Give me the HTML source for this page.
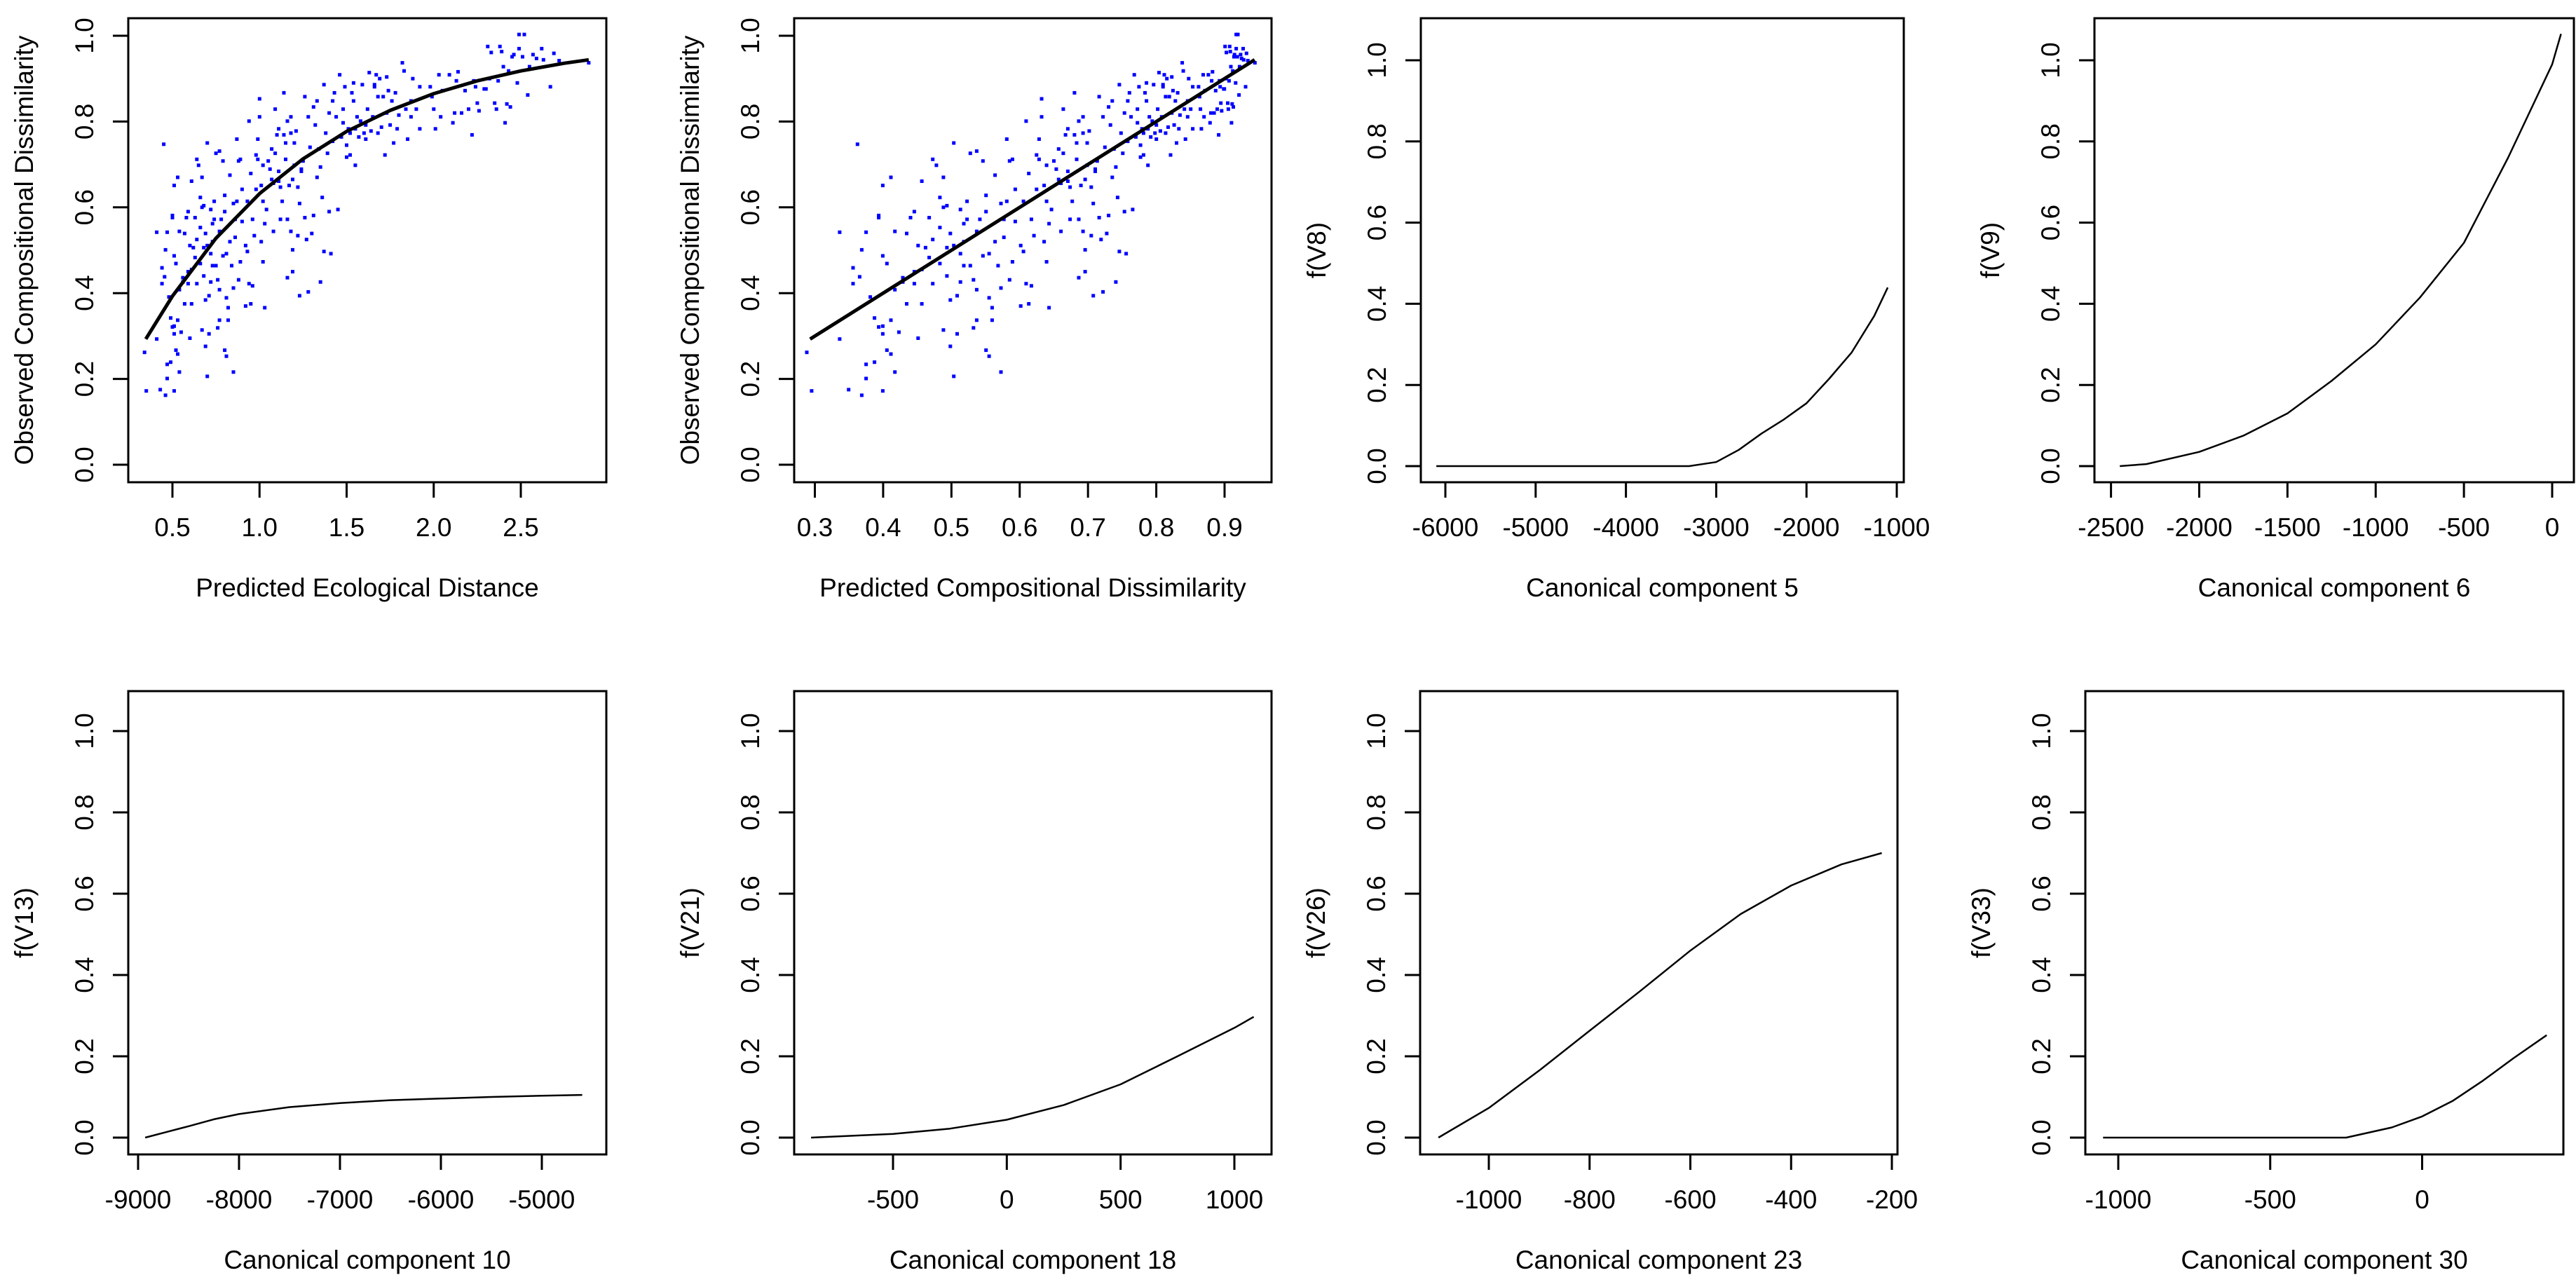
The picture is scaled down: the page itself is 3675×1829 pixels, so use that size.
<!DOCTYPE html>
<html><head><meta charset="utf-8">
<style>
html,body{margin:0;padding:0;background:#fff;}
svg{display:block;}
text{font-family:"Liberation Sans",Arial,sans-serif;fill:#000;}
</style></head>
<body>
<svg id="fig" width="3675" height="1829" viewBox="0 0 3675 1829" xmlns="http://www.w3.org/2000/svg"></svg>
<script>
// ---- scatter data (panel 1 & 2 share observed values) ----
const predEco = [0.34,0.35,0.41,0.41,0.43,0.44,0.44,0.45,0.455,0.46,0.46,0.47,0.47,0.47,0.48,0.49,0.49,0.50,0.50,0.50,0.51,0.51,0.51,0.51,0.51,0.52,0.52,0.53,0.53,0.53,0.54,0.54,0.54,0.55,0.56,0.56,0.57,0.57,0.58,0.59,0.59,0.59,0.60,0.60,0.61,0.61,0.61,0.62,0.63,0.63,0.64,0.64,0.64,0.65,0.66,0.66,0.66,0.67,0.67,0.67,0.68,0.68,0.68,0.69,0.69,0.69,0.70,0.70,0.70,0.71,0.71,0.72,0.72,0.72,0.73,0.73,0.73,0.74,0.74,0.75,0.75,0.76,0.76,0.77,0.77,0.77,0.77,0.78,0.79,0.79,0.80,0.80,0.80,0.81,0.81,0.81,0.82,0.82,0.83,0.83,0.84,0.85,0.85,0.85,0.86,0.86,0.87,0.87,0.88,0.88,0.89,0.89,0.90,0.90,0.92,0.92,0.93,0.93,0.94,0.94,0.95,0.95,0.96,0.96,0.97,0.98,0.98,0.99,0.99,1.00,1.00,1.01,1.01,1.02,1.02,1.02,1.03,1.03,1.04,1.05,1.06,1.07,1.07,1.08,1.08,1.09,1.09,1.10,1.11,1.11,1.11,1.12,1.12,1.13,1.14,1.14,1.15,1.15,1.16,1.16,1.16,1.17,1.18,1.18,1.18,1.19,1.19,1.19,1.20,1.20,1.21,1.22,1.22,1.23,1.23,1.24,1.24,1.25,1.26,1.26,1.27,1.28,1.28,1.29,1.30,1.31,1.31,1.32,1.33,1.33,1.34,1.35,1.35,1.36,1.37,1.37,1.38,1.39,1.40,1.40,1.41,1.42,1.42,1.43,1.44,1.45,1.46,1.47,1.48,1.48,1.49,1.50,1.50,1.51,1.52,1.52,1.53,1.54,1.54,1.55,1.55,1.56,1.57,1.58,1.59,1.60,1.61,1.61,1.62,1.63,1.64,1.65,1.66,1.66,1.67,1.68,1.68,1.69,1.70,1.71,1.72,1.73,1.73,1.74,1.75,1.76,1.77,1.78,1.79,1.80,1.82,1.83,1.84,1.85,1.87,1.87,1.88,1.90,1.92,1.92,1.98,1.99,2.00,2.01,2.03,2.04,2.05,2.09,2.11,2.12,2.13,2.14,2.16,2.18,2.20,2.22,2.23,2.24,2.25,2.26,2.29,2.30,2.31,2.32,2.33,2.35,2.36,2.37,2.38,2.39,2.40,2.41,2.42,2.43,2.44,2.45,2.46,2.48,2.49,2.49,2.51,2.52,2.54,2.55,2.57,2.59,2.62,2.63,2.67,2.69,2.72,2.89];
const observed = [0.262,0.172,0.293,0.542,0.175,0.459,0.422,0.747,0.438,0.162,0.501,0.542,0.201,0.234,0.391,0.342,0.239,0.321,0.581,0.576,0.487,0.323,0.305,0.172,0.651,0.469,0.267,0.337,0.258,0.670,0.408,0.216,0.544,0.309,0.436,0.426,0.539,0.375,0.576,0.450,0.422,0.590,0.295,0.511,0.661,0.375,0.455,0.506,0.576,0.483,0.525,0.422,0.712,0.698,0.623,0.469,0.553,0.670,0.314,0.600,0.506,0.440,0.604,0.276,0.384,0.539,0.750,0.206,0.511,0.305,0.394,0.426,0.595,0.492,0.562,0.464,0.520,0.572,0.614,0.464,0.726,0.319,0.431,0.337,0.544,0.408,0.731,0.572,0.487,0.708,0.628,0.267,0.590,0.389,0.253,0.492,0.337,0.366,0.520,0.675,0.464,0.412,0.216,0.609,0.530,0.572,0.614,0.759,0.708,0.431,0.473,0.712,0.567,0.642,0.370,0.511,0.614,0.497,0.422,0.801,0.375,0.679,0.572,0.417,0.534,0.642,0.722,0.759,0.712,0.853,0.811,0.520,0.651,0.698,0.614,0.473,0.562,0.366,0.595,0.708,0.689,0.736,0.665,0.544,0.656,0.829,0.726,0.769,0.661,0.783,0.684,0.572,0.647,0.614,0.867,0.769,0.712,0.750,0.436,0.801,0.572,0.651,0.544,0.773,0.811,0.501,0.665,0.450,0.750,0.698,0.778,0.647,0.534,0.394,0.609,0.689,0.684,0.708,0.576,0.858,0.525,0.403,0.811,0.740,0.539,0.834,0.581,0.792,0.670,0.848,0.736,0.426,0.694,0.623,0.497,0.886,0.773,0.726,0.820,0.590,0.492,0.848,0.754,0.867,0.811,0.595,0.909,0.764,0.797,0.829,0.881,0.717,0.745,0.783,0.722,0.773,0.867,0.890,0.848,0.698,0.783,0.811,0.764,0.801,0.886,0.773,0.759,0.792,0.829,0.914,0.778,0.811,0.886,0.881,0.909,0.773,0.858,0.900,0.787,0.858,0.722,0.904,0.820,0.872,0.792,0.848,0.750,0.867,0.783,0.815,0.937,0.918,0.829,0.759,0.811,0.848,0.900,0.829,0.881,0.783,0.881,0.858,0.829,0.783,0.909,0.811,0.872,0.909,0.797,0.820,0.895,0.916,0.820,0.872,0.829,0.769,0.895,0.881,0.843,0.825,0.876,0.876,0.975,0.900,0.961,0.843,0.829,0.895,0.975,0.963,0.928,0.797,0.841,0.918,0.834,0.951,0.956,0.890,0.970,1.003,0.951,1.003,0.862,0.928,0.956,0.947,0.970,0.944,0.881,0.959,0.942,0.937];
// fitted GDM link curve
const fitEco = [0.347,0.5,0.75,1.0,1.25,1.5,1.75,2.0,2.25,2.5,2.75,2.89];
const fitObs = [0.293,0.393,0.528,0.632,0.713,0.777,0.826,0.865,0.895,0.918,0.936,0.944];
// ---- spline (partial) function data ----
const v8X = [-6100,-3300,-3000,-2750,-2500,-2250,-2000,-1750,-1500,-1250,-1100];
const v8Y = [0,0,0.01,0.04,0.08,0.115,0.155,0.215,0.28,0.37,0.44];
const v9X = [-2450,-2300,-2000,-1750,-1500,-1250,-1000,-750,-500,-250,0,50];
const v9Y = [0,0.005,0.035,0.075,0.13,0.21,0.30,0.415,0.55,0.76,0.99,1.065];
const v13X = [-8930,-8700,-8500,-8250,-8000,-7500,-7000,-6500,-6000,-5500,-5000,-4600];
const v13Y = [0,0.015,0.028,0.045,0.058,0.075,0.085,0.092,0.096,0.1,0.103,0.105];
const v21X = [-860,-500,-250,0,250,500,750,1000,1085];
const v21Y = [0,0.009,0.022,0.044,0.08,0.131,0.2,0.27,0.297];
const v26X = [-1100,-1000,-900,-800,-700,-600,-500,-400,-300,-220];
const v26Y = [0,0.073,0.165,0.263,0.36,0.46,0.55,0.62,0.672,0.70];
const v33X = [-1050,-250,-100,0,100,200,300,410];
const v33Y = [0,0,0.025,0.052,0.09,0.14,0.195,0.252];
// tick labels
const ticksP1 = ["0.5","1.0","1.5","2.0","2.5"];
const ticksP2 = ["0.3","0.4","0.5","0.6","0.7","0.8","0.9"];
const ticksP3 = ["-6000","-5000","-4000","-3000","-2000","-1000"];
const ticksP4 = ["-2500","-2000","-1500","-1000","-500","0"];
const ticksP5 = ["-9000","-8000","-7000","-6000","-5000"];
const ticksP6 = ["-500","0","500","1000"];
const ticksP7 = ["-1000","-800","-600","-400","-200"];
const ticksP8 = ["-1000","-500","0"];
const yTicks = ["0.0","0.2","0.4","0.6","0.8","1.0"];

const NS = "http://www.w3.org/2000/svg";
const svg = document.getElementById("fig");
function mk(tag, attrs, parent){
  const e = document.createElementNS(NS, tag);
  for (const k in attrs) e.setAttribute(k, attrs[k]);
  (parent||svg).appendChild(e);
  return e;
}
function linScale(v0,p0,v1,p1){ return v => p0 + (v - v0) * (p1 - p0) / (v1 - v0); }

function panel(cfg){
  const g = mk("g", {});
  
  
  const sx = linScale(cfg.xa[0], cfg.xa[1], cfg.xb[0], cfg.xb[1]);
  const sy = linScale(0, cfg.y0, 1, cfg.y1);
  const box = mk("rect", {x:cfg.L, y:cfg.T, width:cfg.R-cfg.L, height:cfg.B-cfg.T, fill:"none", stroke:"#000", "stroke-width":3}, g);
  
  
  // x ticks
  cfg.xt.forEach(lbl => {
    const px = sx(parseFloat(lbl));
    const t = mk("line", {x1:px, x2:px, y1:cfg.B, y2:cfg.B+22, stroke:"#000", "stroke-width":3}, g);
    
    
    const tx = mk("text", {x:px, y:cfg.B+77, "text-anchor":"middle", "font-size":37}, g);
    tx.textContent = lbl;
    
    
  });
  // y ticks
  yTicks.forEach(lbl => {
    const py = sy(parseFloat(lbl));
    const t = mk("line", {x1:cfg.L-22, x2:cfg.L, y1:py, y2:py, stroke:"#000", "stroke-width":3}, g);
    
    
    const tx = mk("text", {x:0, y:0, "text-anchor":"middle", "font-size":37, transform:`translate(${cfg.L-50},${py}) rotate(-90)`}, g);
    tx.textContent = lbl;
    
    
  });
  const xt = mk("text", {x:(cfg.L+cfg.R)/2, y:cfg.B+163, "text-anchor":"middle", "font-size":37}, g);
  xt.textContent = cfg.xlab;
  
  
  const yt = mk("text", {x:0, y:0, "text-anchor":"middle", "font-size":37, transform:`translate(${cfg.L-136},${(cfg.T+cfg.B)/2}) rotate(-90)`}, g);
  yt.textContent = cfg.ylab;
  
  
  return {g, sx, sy};
}
function drawLine(p, xs, ys, w, name){
  const d = xs.map((x,i) => (i?"L":"M") + p.sx(x).toFixed(1) + "," + p.sy(ys[i]).toFixed(1)).join(" ");
  const path = mk("path", {d, fill:"none", stroke:"#000", "stroke-width":w, "stroke-linejoin":"round"}, p.g);
  
  
}
function drawPoints(p, xs, ys){
  const pg = mk("g", {fill:"#0000ff"}, p.g);
  
  
  xs.forEach((x,i) => {
    const r = mk("rect", {x:(p.sx(x)-2.5).toFixed(1), y:(p.sy(ys[i])-2.5).toFixed(1), width:5, height:5}, pg);
    
    
  });
}

// Panel 1
const p1 = panel({name:"panel-observed-vs-ecological-distance", L:183,T:26,R:865,B:688, xa:[0.5,246], xb:[2.5,743], y0:663, y1:51, xt:ticksP1, xlab:"Predicted Ecological Distance", ylab:"Observed Compositional Dissimilarity"});
drawPoints(p1, predEco, observed);
drawLine(p1, fitEco, fitObs, 5, "fitted-curve");
// Panel 2 (predicted dissimilarity = 1 - exp(-ecological distance))
const p2 = panel({name:"panel-observed-vs-predicted-dissimilarity", L:1133,T:26,R:1814,B:688, xa:[0.3,1162.5], xb:[0.9,1747], y0:663, y1:51, xt:ticksP2, xlab:"Predicted Compositional Dissimilarity", ylab:"Observed Compositional Dissimilarity"});
drawPoints(p2, predEco.map(e => 1 - Math.exp(-e)), observed);
drawLine(p2, fitObs, fitObs, 5, "fitted-line");
// Panel 3
const p3 = panel({name:"panel-f-v8", L:2027,T:26,R:2716,B:688, xa:[-6000,2062], xb:[-1000,2706], y0:665, y1:86, xt:ticksP3, xlab:"Canonical component 5", ylab:"f(V8)"});
drawLine(p3, v8X, v8Y, 2.5, "spline-v8");
// Panel 4
const p4 = panel({name:"panel-f-v9", L:2988,T:26,R:3672,B:688, xa:[-2500,3011.6], xb:[0,3641], y0:665, y1:86, xt:ticksP4, xlab:"Canonical component 6", ylab:"f(V9)"});
drawLine(p4, v9X, v9Y, 2.5, "spline-v9");
// Panel 5
const p5 = panel({name:"panel-f-v13", L:183,T:986,R:865,B:1647, xa:[-9000,197], xb:[-8000,341], y0:1623, y1:1043, xt:ticksP5, xlab:"Canonical component 10", ylab:"f(V13)"});
drawLine(p5, v13X, v13Y, 2.5, "spline-v13");
// Panel 6
const p6 = panel({name:"panel-f-v21", L:1133,T:986,R:1814,B:1647, xa:[-500,1274], xb:[1000,1761], y0:1623, y1:1043, xt:ticksP6, xlab:"Canonical component 18", ylab:"f(V21)"});
drawLine(p6, v21X, v21Y, 2.5, "spline-v21");
// Panel 7
const p7 = panel({name:"panel-f-v26", L:2026,T:986,R:2707,B:1647, xa:[-1000,2124], xb:[-200,2699], y0:1623, y1:1043, xt:ticksP7, xlab:"Canonical component 23", ylab:"f(V26)"});
drawLine(p7, v26X, v26Y, 2.5, "spline-v26");
// Panel 8
const p8 = panel({name:"panel-f-v33", L:2975,T:986,R:3657,B:1647, xa:[-1000,3022], xb:[0,3455.5], y0:1623, y1:1043, xt:ticksP8, xlab:"Canonical component 30", ylab:"f(V33)"});
drawLine(p8, v33X, v33Y, 2.5, "spline-v33");
</script>
</body></html>
